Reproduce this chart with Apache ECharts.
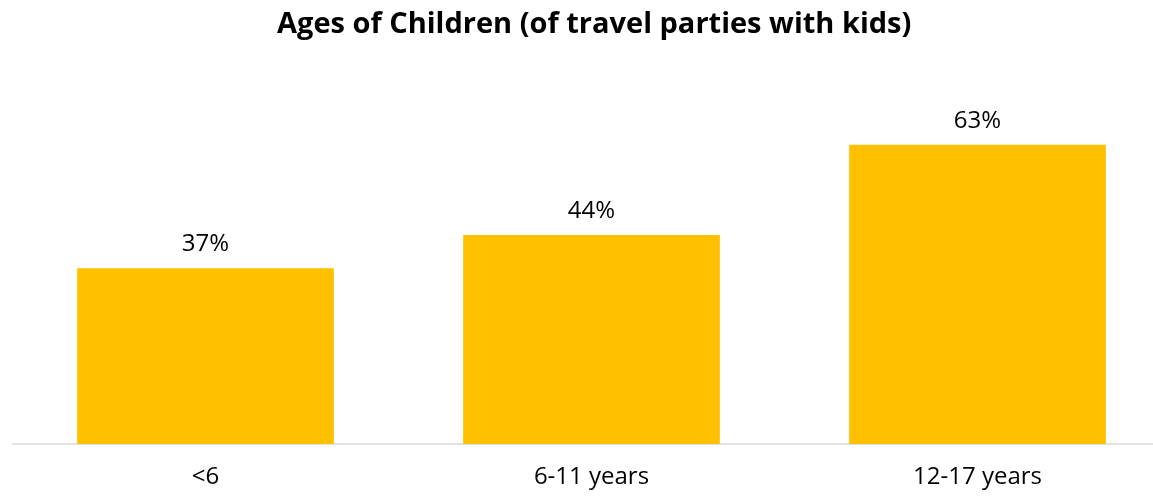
<!DOCTYPE html>
<html>
<head>
<meta charset="utf-8">
<script src="https://cdn.jsdelivr.net/npm/echarts@6/dist/echarts.min.js"></script>
<style>
html,body{margin:0;padding:0;background:#fff;overflow:hidden;width:1153px;height:497px;}
#main{width:1171px;height:497px;}
</style>
</head>
<body>
<div id="main"></div>
<script>
const titleText = 'Ages of Children (of travel parties with kids)';
const categories = ['<6', '6-11 years', '12-17 years'];
const values = [37, 44, 63];

const chart = echarts.init(document.getElementById('main'), null, {renderer: 'canvas'});
chart.setOption({
  animation: false,
  backgroundColor: '#ffffff',
  title: {
    text: titleText,
    left: 272,
    top: 5,
    textStyle: {fontFamily: 'Open Sans', fontWeight: 'bold', fontSize: 29, color: '#000000'}
  },
  grid: {left: 12.5, top: 111.5, right: 0.5, height: 332.5},
  xAxis: {
    type: 'category',
    data: categories,
    axisLine: {lineStyle: {color: '#d9d9d9', width: 1.5}},
    axisTick: {show: false},
    axisLabel: {margin: 21, fontFamily: 'Open Sans', fontSize: 24, color: '#000000'}
  },
  yAxis: {
    type: 'value',
    min: 0,
    max: 70,
    show: false
  },
  series: [{
    type: 'bar',
    data: values,
    barWidth: '66.5%',
    itemStyle: {color: '#FFC000'},
    label: {
      show: true,
      position: 'top',
      distance: 12,
      formatter: '{c}%',
      fontFamily: 'Open Sans',
      fontSize: 24,
      color: '#000000'
    }
  }]
});
</script>
</body>
</html>
